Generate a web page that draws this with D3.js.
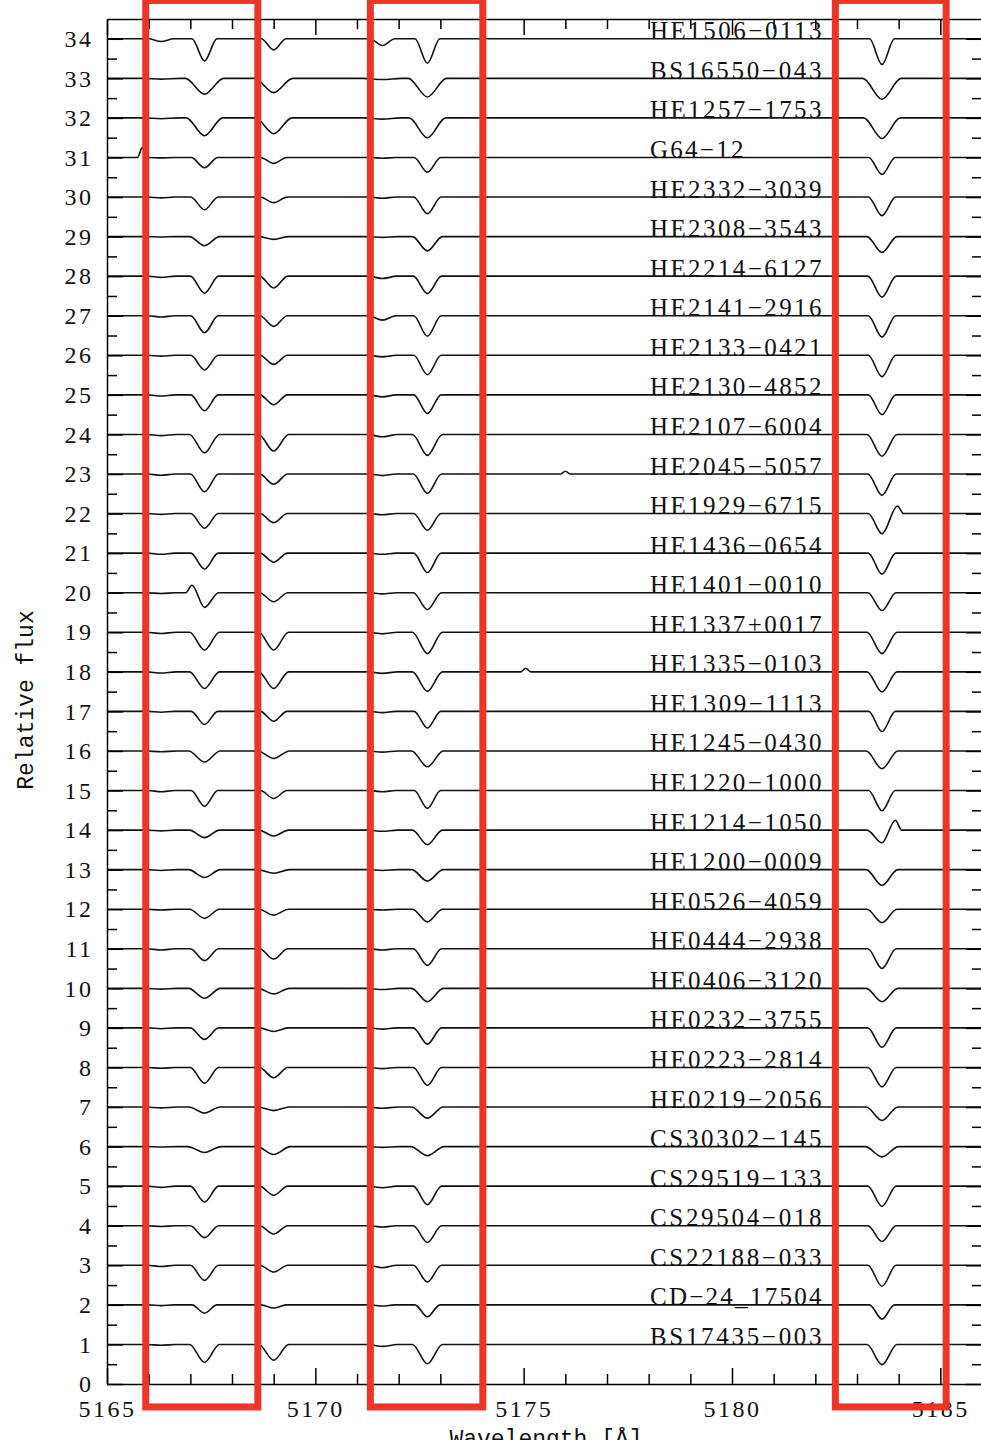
<!DOCTYPE html>
<html>
<head>
<meta charset="utf-8">
<script src="https://cdn.jsdelivr.net/npm/d3@7"></script>
<style>
  html, body { margin: 0; padding: 0; background: #fff; }
  svg { display: block; }
  .tick text { font-family: "Liberation Serif", serif; font-size: 24px; letter-spacing: 2.5px; fill: #111; }
  .tick line, .domain { stroke: #000; stroke-width: 1.5; }
</style>
</head>
<body>
<svg id="chart" width="981" height="1440"></svg>
<script>
// Star names, listed by vertical offset (offset 1 at the bottom, 34 at the top)
const starNames = [
  "BS17435−003", "CD−24_17504", "CS22188−033", "CS29504−018", "CS29519−133",
  "CS30302−145", "HE0219−2056", "HE0223−2814", "HE0232−3755", "HE0406−3120",
  "HE0444−2938", "HE0526−4059", "HE1200−0009", "HE1214−1050", "HE1220−1000",
  "HE1245−0430", "HE1309−1113", "HE1335−0103", "HE1337+0017", "HE1401−0010",
  "HE1436−0654", "HE1929−6715", "HE2045−5057", "HE2107−6004", "HE2130−4852",
  "HE2133−0421", "HE2141−2916", "HE2214−6127", "HE2308−3543", "HE2332−3039",
  "G64−12", "HE1257−1753", "BS16550−043", "HE1506−0113"
];

// Absorption line centres [Å]
const lineCenters = [5166.30, 5167.34, 5169.00, 5171.61, 5172.69, 5183.60];

// Line depths (1 - F_min) per star, same order as starNames
const depth5166 = [0.02,0.02,0.03,0.02,0.03,0.01,0.02,0.02,0.02,0.02,0.03,0.02,0.02,0.02,0.03,0.02,0.02,0.03,0.03,0.02,0.03,0.02,0.03,0.03,0.03,0.02,0.03,0.03,0.01,0.02,0.01,0.02,0.02,0.07];
const depth5167 = [0.45,0.21,0.38,0.30,0.40,0.15,0.15,0.40,0.29,0.25,0.30,0.23,0.20,0.19,0.40,0.28,0.33,0.42,0.45,0.37,0.40,0.37,0.45,0.47,0.40,0.37,0.43,0.43,0.23,0.32,0.26,0.45,0.40,0.56];
const depth5169 = [0.40,0.08,0.17,0.21,0.23,0.20,0.09,0.26,0.09,0.14,0.26,0.15,0.09,0.15,0.20,0.19,0.25,0.42,0.45,0.23,0.23,0.23,0.26,0.42,0.25,0.23,0.27,0.30,0.07,0.14,0.15,0.40,0.36,0.28];
const depth5171 = [0.05,0.03,0.06,0.03,0.04,0.02,0.03,0.03,0.03,0.03,0.03,0.02,0.02,0.03,0.03,0.03,0.03,0.04,0.04,0.03,0.03,0.03,0.04,0.06,0.05,0.04,0.11,0.06,0.02,0.03,0.02,0.03,0.03,0.17];
const depth5172 = [0.49,0.30,0.42,0.42,0.47,0.23,0.28,0.45,0.41,0.34,0.42,0.32,0.29,0.37,0.45,0.40,0.42,0.49,0.54,0.43,0.49,0.42,0.49,0.53,0.47,0.49,0.52,0.44,0.36,0.42,0.37,0.50,0.47,0.62];
const depth5183 = [0.51,0.36,0.53,0.40,0.51,0.26,0.34,0.49,0.49,0.34,0.50,0.34,0.40,0.32,0.51,0.45,0.51,0.51,0.54,0.45,0.53,0.51,0.54,0.55,0.50,0.54,0.54,0.53,0.40,0.47,0.43,0.52,0.53,0.65];

// Line half-width at the continuum [Å] per star
const halfWidth = [0.36,0.30,0.34,0.34,0.34,0.40,0.38,0.34,0.34,0.38,0.34,0.36,0.38,0.36,0.32,0.38,0.32,0.36,0.36,0.34,0.33,0.33,0.34,0.36,0.33,0.33,0.33,0.34,0.36,0.33,0.32,0.44,0.46,0.30];

// Emission spikes / artefacts: star offset, wavelength [Å], height, half-width [Å]
const spikeOffset = [31, 23, 22, 20, 18, 14];
const spikeWave   = [5165.85, 5176.00, 5183.97, 5167.04, 5175.05, 5183.92];
const spikeHeight = [0.25, 0.07, 0.19, 0.19, 0.09, 0.25];
const spikeWidth  = [0.12, 0.12, 0.15, 0.15, 0.12, 0.15];

// Axis ticks
const xMajorTicks = [5165, 5170, 5175, 5180, 5185];
const xMinorTicks = d3.range(5165, 5187, 1);
const yMajorTicks = d3.range(0, 35, 1);
const yMinorTicks = d3.range(0.5, 34.5, 1);

// Highlighted Mg b regions [Å] and their vertical span in flux units
const boxLeft  = [5165.93, 5171.32, 5182.48];
const boxRight = [5168.62, 5174.02, 5185.14];
const boxBottom = -0.58, boxTop = 34.97;

const wavelengthDomain = [5165, 5186];
const fluxDomain = [0, 34.5];

const svg = d3.select("#chart");
const x = d3.scaleLinear().domain(wavelengthDomain).range([107, 982]);
const y = d3.scaleLinear().domain(fluxDomain).range([1384, 19]);

const depthTable = [depth5166, depth5167, depth5169, depth5171, depth5172, depth5183];

// Build the vertex list of each spectrum: continuum shoulders and line cores
function spectrumVertices(i) {
  const k = i + 1;
  const w = halfWidth[i];
  const feats = lineCenters.map((c, j) => ({ c, a: -depthTable[j][i], w }));
  spikeOffset.forEach((o, s) => {
    if (o === k) feats.push({ c: spikeWave[s], a: spikeHeight[s], w: spikeWidth[s] });
  });
  feats.sort((p, q) => p.c - q.c);
  const pts = [[wavelengthDomain[0], k]];
  feats.forEach(f => {
    const left = f.c - f.w;
    const prev = pts[pts.length - 1];
    if (left <= prev[0] && pts.length > 1) {
      pts.pop(); // overlapping profiles join directly
    } else {
      pts.push([left, k]);
    }
    pts.push([f.c, k + f.a]);
    pts.push([f.c + f.w, k]);
  });
  pts.push([wavelengthDomain[1], k]);
  return pts;
}

const line = d3.line()
  .x(d => x(d[0]))
  .y(d => y(d[1]))
  .curve(d3.curveMonotoneX);

svg.append("defs").append("clipPath").attr("id", "plotClip")
  .append("rect").attr("x", 107).attr("y", 19).attr("width", 875).attr("height", 1365);

// Spectra
svg.append("g").attr("clip-path", "url(#plotClip)")
  .selectAll("path")
  .data(starNames.map((n, i) => spectrumVertices(i)))
  .join("path")
  .attr("d", line)
  .attr("fill", "none")
  .attr("stroke", "#111")
  .attr("stroke-width", 1.6)
  .attr("stroke-linejoin", "round");

// Star labels sitting on their spectra
svg.append("g")
  .selectAll("text")
  .data(starNames)
  .join("text")
  .attr("x", x(5178.03))
  .attr("y", (d, i) => y(i + 1) + 0.5)
  .attr("font-family", "'Liberation Serif', serif")
  .attr("font-size", 25)
  .attr("fill", "#111")
  .attr("textLength", d => d.length * 15.6)
  .attr("lengthAdjust", "spacing")
  .text(d => d);

// Axes: major and minor ticks on all four sides, pointing inward
const fmt = d3.format("d");
svg.append("g").attr("transform", "translate(0,1384)")
  .call(d3.axisBottom(x).tickValues(xMajorTicks).tickSizeInner(-16).tickSizeOuter(0).tickPadding(16).tickFormat(fmt));
svg.append("g").attr("transform", "translate(0,1384)")
  .call(d3.axisBottom(x).tickValues(xMinorTicks.filter(v => !xMajorTicks.includes(v))).tickSize(-10).tickFormat(""))
  .call(g => g.select(".domain").remove());
svg.append("g").attr("transform", "translate(0,19)")
  .call(d3.axisTop(x).tickValues(xMajorTicks).tickSizeInner(-16).tickSizeOuter(0).tickFormat(""));
svg.append("g").attr("transform", "translate(0,19)")
  .call(d3.axisTop(x).tickValues(xMinorTicks.filter(v => !xMajorTicks.includes(v))).tickSize(-10).tickFormat(""))
  .call(g => g.select(".domain").remove());

svg.append("g").attr("transform", "translate(107,0)")
  .call(d3.axisLeft(y).tickValues(yMajorTicks).tickSizeInner(-16).tickSizeOuter(0).tickPadding(13.5).tickFormat(fmt));
svg.append("g").attr("transform", "translate(107,0)")
  .call(d3.axisLeft(y).tickValues(yMinorTicks).tickSize(-10).tickFormat(""))
  .call(g => g.select(".domain").remove());
svg.append("g").attr("transform", "translate(982,0)")
  .call(d3.axisRight(y).tickValues(yMajorTicks).tickSizeInner(-16).tickSizeOuter(0).tickFormat(""));
svg.append("g").attr("transform", "translate(982,0)")
  .call(d3.axisRight(y).tickValues(yMinorTicks).tickSize(-10).tickFormat(""))
  .call(g => g.select(".domain").remove());

svg.selectAll(".tick text").attr("fill", "#111");

// Axis titles
svg.append("text")
  .attr("transform", "translate(33,700) rotate(-90)")
  .attr("text-anchor", "middle")
  .attr("font-family", "'Liberation Mono', monospace")
  .attr("font-size", 23)
  .attr("fill", "#111")
  .text("Relative flux");

svg.append("text")
  .attr("x", 546)
  .attr("y", 1446)
  .attr("text-anchor", "middle")
  .attr("font-family", "'Liberation Mono', monospace")
  .attr("font-size", 23)
  .attr("fill", "#111")
  .text("Wavelength [Å]");

// Highlight boxes around the Mg b lines
svg.append("g")
  .selectAll("rect")
  .data(boxLeft.map((l, i) => [l, boxRight[i]]))
  .join("rect")
  .attr("x", d => x(d[0]))
  .attr("width", d => x(d[1]) - x(d[0]))
  .attr("y", y(boxTop))
  .attr("height", y(boxBottom) - y(boxTop))
  .attr("fill", "none")
  .attr("stroke", "#ef3326")
  .attr("stroke-width", 7);
</script>
</body>
</html>
